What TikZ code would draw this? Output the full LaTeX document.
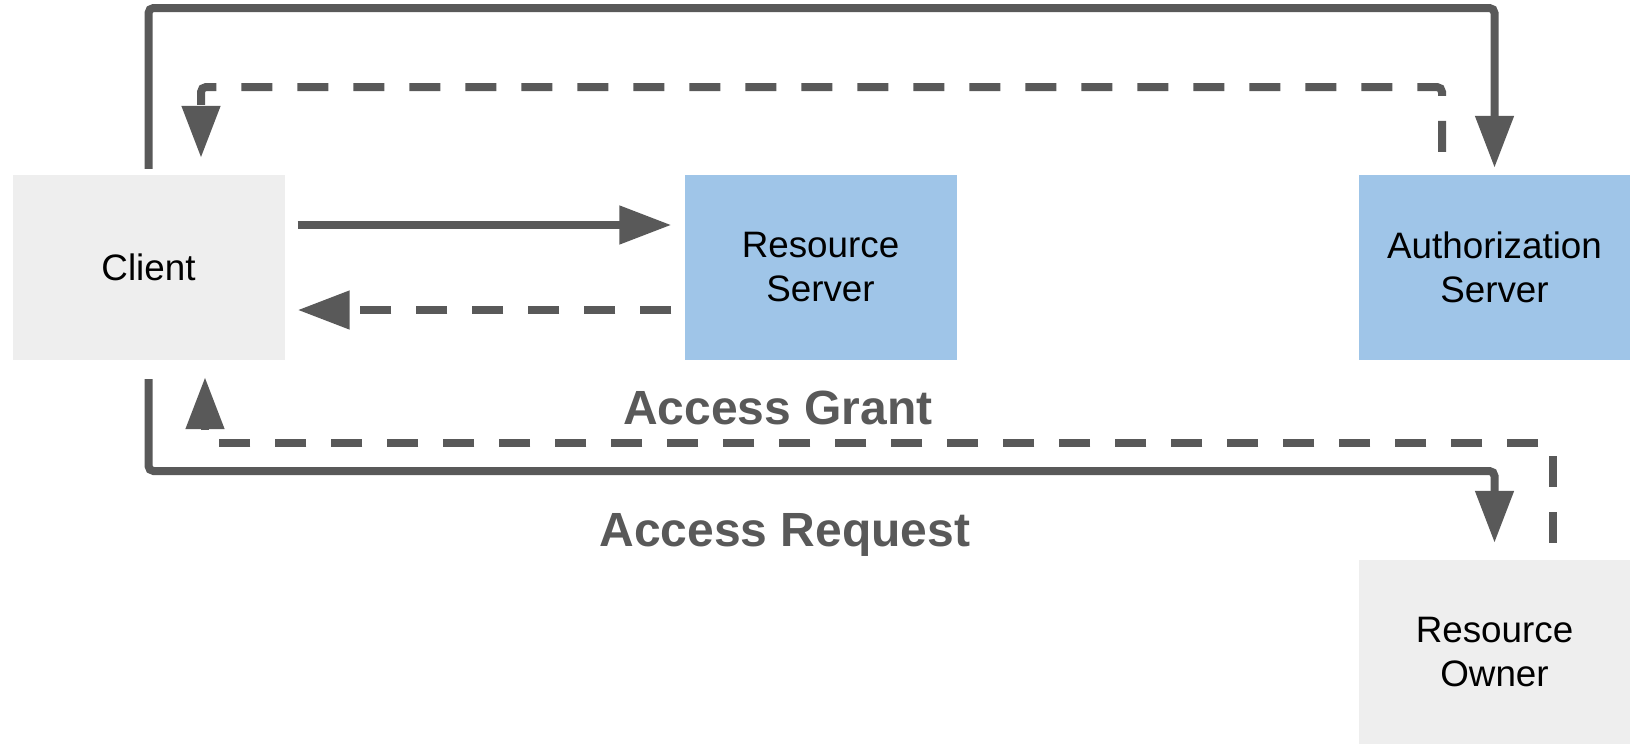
\documentclass[tikz,border=0pt]{standalone}
\usepackage{fontspec}
\setmainfont{Liberation Sans}
\usetikzlibrary{arrows.meta,calc}
\definecolor{linegray}{HTML}{595959}
\definecolor{boxgray}{HTML}{EEEEEE}
\definecolor{boxblue}{HTML}{9FC5E8}
\tikzset{
  box/.style={draw=none, inner sep=0pt, minimum width=272pt, minimum height=185pt,
    align=center, font=\fontsize{36.8}{44}\selectfont, text=black},
  graybox/.style={box, fill=boxgray},
  bluebox/.style={box, fill=boxblue},
  flow/.style={draw=linegray, line width=8pt, rounded corners=5pt,
    -{Triangle[length=52pt,width=37pt]}, color=linegray},
  reply/.style={flow, dash pattern=on 31pt off 25pt},
  tag/.style={font=\fontsize{48}{50}\selectfont\bfseries, text=linegray, anchor=base}
}
\begin{document}
\begin{tikzpicture}[x=1pt, y=-1pt]
  \useasboundingbox (0,0) rectangle (1630,744);

  % parties
  \node[graybox] (client) at (148.5,267.5) {Client};
  \node[bluebox] (rs) at (820.5,267.5) {Resource\\Server};
  \node[bluebox] (as) at (1494.5,267.5) {Authorization\\Server};
  \node[graybox, minimum height=184pt] (ro) at (1494.5,652) {Resource\\Owner};

  % rails for the long routes
  \coordinate (toprail) at (0,8);
  \coordinate (replyrail) at (0,87);
  \coordinate (grantrail) at (0,443);
  \coordinate (requestrail) at (0,471);

  % client <-> authorization server
  \draw[flow] ([yshift=6pt]client.north) -- (client.north |- toprail)
    -| ([yshift=7pt]as.north);
  \coordinate (asout) at ([xshift=-52.5pt,yshift=23pt]as.north);
  \coordinate (clin) at ([xshift=52.5pt,yshift=17pt]client.north);
  \draw[reply] (asout) -- (asout |- replyrail) -| (clin);

  % client <-> resource server
  \draw[flow] ([shift={(13pt,42.5pt)}]client.east) -- ([shift={(-13pt,42.5pt)}]rs.west);
  \draw[reply] ([shift={(-13pt,-42.5pt)}]rs.west) -- ([shift={(13pt,-42.5pt)}]client.east);

  % client <-> resource owner
  \draw[flow] ([yshift=-19pt]client.south) -- (client.south |- requestrail)
    -| ([yshift=17pt]ro.north);
  \coordinate (roout) at ([xshift=58.5pt,yshift=17pt]ro.north);
  \coordinate (clback) at ([xshift=56.5pt,yshift=-17pt]client.south);
  \draw[reply] (roout) -- (roout |- grantrail) -| (clback);

  % labels
  \node[tag] (grant) at (778,424) {Access Grant};
  \node[tag] (request) at (785,546) {Access Request};
\end{tikzpicture}
\end{document}
